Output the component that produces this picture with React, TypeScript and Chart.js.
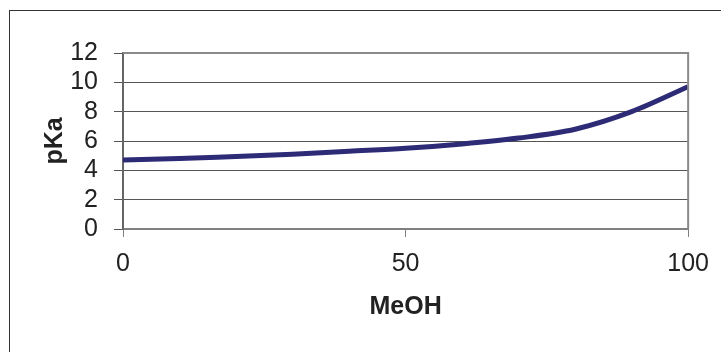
import React, { useEffect, useRef } from "react";
import { Chart, registerables } from "chart.js";

Chart.register(...registerables);

const meohValues = [0, 10, 20, 30, 40, 50, 60, 70, 80, 90, 100];
const pkaValues = [4.7, 4.8, 4.95, 5.1, 5.3, 5.5, 5.8, 6.2, 6.8, 8.0, 9.7];
const xTitle = "MeOH";
const yTitle = "pKa";

const FONT = "'Liberation Sans', Arial, sans-serif";

const plotBorder = {
  id: "plotBorder",
  afterDraw(chart: any) {
    const { ctx, chartArea } = chart;
    ctx.save();
    ctx.strokeStyle = "#8a8a8a";
    ctx.lineWidth = 2;
    ctx.beginPath();
    ctx.moveTo(chartArea.left, chartArea.top);
    ctx.lineTo(chartArea.right, chartArea.top);
    ctx.lineTo(chartArea.right, chartArea.bottom);
    ctx.stroke();
    ctx.restore();
  },
};

export default function App() {
  const ref = useRef<HTMLCanvasElement>(null);
  useEffect(() => {
    if (!ref.current) return;
    const chart = new Chart(ref.current, {
      type: "line",
      data: {
        datasets: [
          {
            data: meohValues.map((x, i) => ({ x, y: pkaValues[i] })),
            borderColor: "#2d2a76",
            borderWidth: 5,
            pointRadius: 0,
            cubicInterpolationMode: "monotone",
            fill: false,
          },
        ],
      },
      options: {
        responsive: false,
        animation: false,
        layout: { padding: { top: 53, right: 31, left: 0, bottom: 0 } },
        plugins: { legend: { display: false }, tooltip: { enabled: false } },
        scales: {
          x: {
            type: "linear",
            min: 0,
            max: 100,
            afterFit(scale: any) {
              scale.height = 123;
            },
            ticks: {
              stepSize: 50,
              padding: 12,
              maxRotation: 0,
              autoSkip: false,
              color: "#222",
              font: { family: FONT, size: 25 },
            },
            grid: { drawOnChartArea: false, drawTicks: true, tickLength: 8, color: "#808080" },
            border: { color: "#808080", width: 2 },
            title: {
              display: true,
              text: xTitle,
              color: "#222",
              padding: { top: 0, bottom: 30 },
              font: { family: FONT, size: 25, weight: "bold" },
            },
          },
          y: {
            min: 0,
            max: 12,
            afterFit(scale: any) {
              scale.width = 123;
            },
            ticks: {
              stepSize: 2,
              padding: 16,
              autoSkip: false,
              color: "#222",
              font: { family: FONT, size: 25 },
            },
            grid: { color: "#555", lineWidth: 1, tickLength: 9 },
            border: { color: "#666", width: 2 },
            title: {
              display: true,
              text: yTitle,
              color: "#222",
              padding: { top: 40, bottom: 0 },
              font: { family: FONT, size: 25, weight: "bold" },
            },
          },
        },
      },
      plugins: [plotBorder],
    } as any);
    return () => chart.destroy();
  }, []);
  return (
    <div style={{ position: "fixed", left: 0, top: 0, width: 721, height: 352, background: "#fff", overflow: "hidden" }}>
      <canvas ref={ref} width={721} height={352} style={{ position: "absolute", left: 0, top: 0 }} />
      <div
        style={{
          position: "absolute",
          left: 9,
          top: 10,
          width: 800,
          height: 400,
          borderLeft: "1px solid #333",
          borderTop: "1px solid #333",
          pointerEvents: "none",
        }}
      />
    </div>
  );
}
